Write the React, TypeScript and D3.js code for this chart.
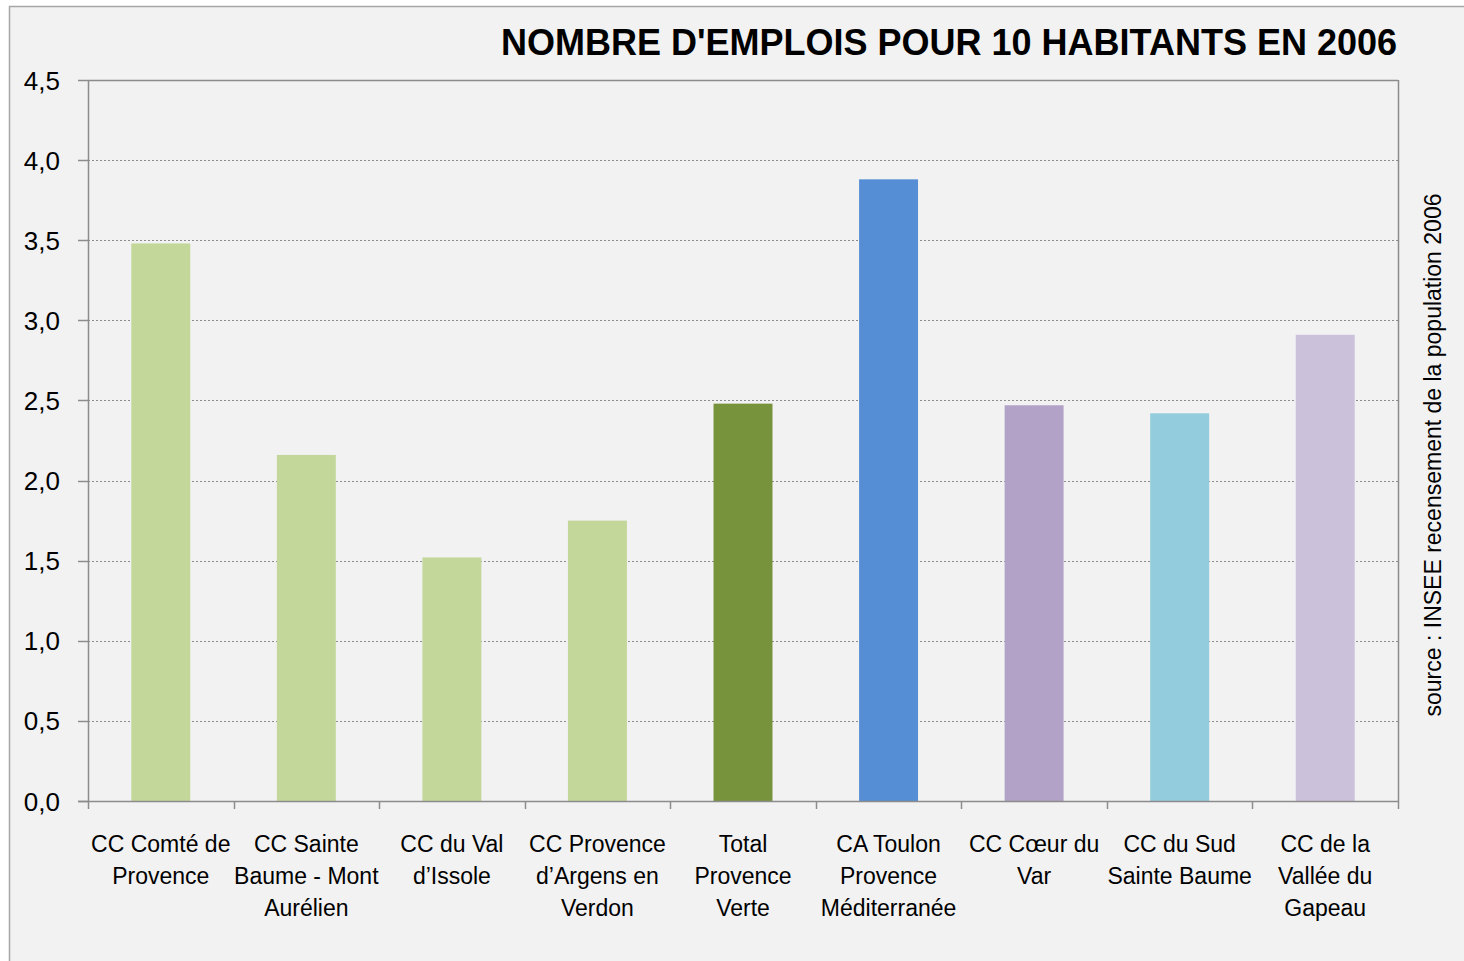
import React from "react";
import * as d3 from "d3";

const categories: string[][] = [
  ["CC Comté de", "Provence"],
  ["CC Sainte", "Baume - Mont", "Aurélien"],
  ["CC du Val", "d’Issole"],
  ["CC Provence", "d’Argens en", "Verdon"],
  ["Total", "Provence", "Verte"],
  ["CA Toulon", "Provence", "Méditerranée"],
  ["CC Cœur du", "Var"],
  ["CC du Sud", "Sainte Baume"],
  ["CC de la", "Vallée du", "Gapeau"],
];
const values: number[] = [3.48, 2.16, 1.52, 1.75, 2.48, 3.88, 2.47, 2.42, 2.91];
const barColors: string[] = [
  "#c4d79b",
  "#c4d79b",
  "#c4d79b",
  "#c4d79b",
  "#77933c",
  "#558ed5",
  "#b3a2c7",
  "#93cddd",
  "#ccc1da",
];
const yTicks: number[] = [0, 0.5, 1, 1.5, 2, 2.5, 3, 3.5, 4, 4.5];
const title = "NOMBRE D'EMPLOIS POUR 10 HABITANTS EN 2006";
const source = "source : INSEE recensement de la population 2006";

const W = 1464;
const H = 961;
const left = 88;
const right = 1398;
const top = 80;
const bottom = 801;
const font = "'Liberation Sans', Arial, sans-serif";

export default function App() {
  const keys = categories.map((_, i) => String(i));
  const x = d3
    .scaleBand<string>()
    .domain(keys)
    .range([left, right])
    .paddingInner(0.595)
    .paddingOuter(0.2975);
  const y = d3.scaleLinear().domain([0, 4.5]).range([bottom, top]);
  const step = x.step();
  const fmt = (v: number) => d3.format(".1f")(v).replace(".", ",");
  const boundaries = d3.range(categories.length + 1).map((i) => left + i * step);

  return (
    <svg
      width={W}
      height={H}
      style={{ position: "absolute", left: 0, top: 0, background: "#ffffff" }}
      fontFamily={font}
    >
      <rect x={9.5} y={6.5} width={1480} height={980} fill="#f2f2f2" stroke="#a6a6a6" strokeWidth={1.5} />
      <text
        x={1397}
        y={55}
        textAnchor="end"
        fontSize={36}
        fontWeight="bold"
        fill="#000"
      >
        {title}
      </text>
      {/* gridlines */}
      {yTicks
        .filter((t) => t > 0 && t < 4.5)
        .map((t) => (
          <line
            key={"g" + t}
            x1={left}
            x2={right}
            y1={Math.round(y(t)) + 0.5}
            y2={Math.round(y(t)) + 0.5}
            stroke="#8c8c8c"
            strokeWidth={1}
            strokeDasharray="2,2"
          />
        ))}
      {/* bars */}
      {values.map((v, i) => (
        <rect
          key={"b" + i}
          x={x(String(i))}
          y={y(v)}
          width={x.bandwidth()}
          height={y(0) - y(v)}
          fill={barColors[i]}
        />
      ))}
      {/* plot frame top/right */}
      <line x1={left} x2={right} y1={top + 0.5} y2={top + 0.5} stroke="#8c8c8c" strokeWidth={1.5} />
      <line x1={right + 0.5} x2={right + 0.5} y1={top} y2={bottom} stroke="#8c8c8c" strokeWidth={1.5} />
      {/* y axis */}
      <line x1={left + 0.5} x2={left + 0.5} y1={top} y2={bottom} stroke="#8c8c8c" strokeWidth={1.5} />
      {yTicks.map((t) => (
        <g key={"y" + t}>
          <line
            x1={left - 10}
            x2={left}
            y1={Math.round(y(t)) + 0.5}
            y2={Math.round(y(t)) + 0.5}
            stroke="#8c8c8c"
            strokeWidth={1.5}
          />
          <text x={60} y={y(t) + 9.5} textAnchor="end" fontSize={26} fill="#000">
            {fmt(t)}
          </text>
        </g>
      ))}
      {/* x axis */}
      <line x1={left - 10} x2={right} y1={bottom + 0.5} y2={bottom + 0.5} stroke="#8c8c8c" strokeWidth={1.5} />
      {boundaries.map((bx, i) => (
        <line
          key={"xt" + i}
          x1={Math.round(bx) + 0.5}
          x2={Math.round(bx) + 0.5}
          y1={bottom}
          y2={bottom + 8}
          stroke="#8c8c8c"
          strokeWidth={1.5}
        />
      ))}
      {categories.map((lines, i) => (
        <text
          key={"c" + i}
          x={(x(String(i)) as number) + x.bandwidth() / 2}
          y={852}
          textAnchor="middle"
          fontSize={23}
          fill="#000"
        >
          {lines.map((l, j) => (
            <tspan key={j} x={(x(String(i)) as number) + x.bandwidth() / 2} dy={j === 0 ? 0 : 32}>
              {l}
            </tspan>
          ))}
        </text>
      ))}
      <text
        transform={`translate(1441, 455) rotate(-90)`}
        textAnchor="middle"
        fontSize={23}
        fill="#000"
      >
        {source}
      </text>
    </svg>
  );
}
